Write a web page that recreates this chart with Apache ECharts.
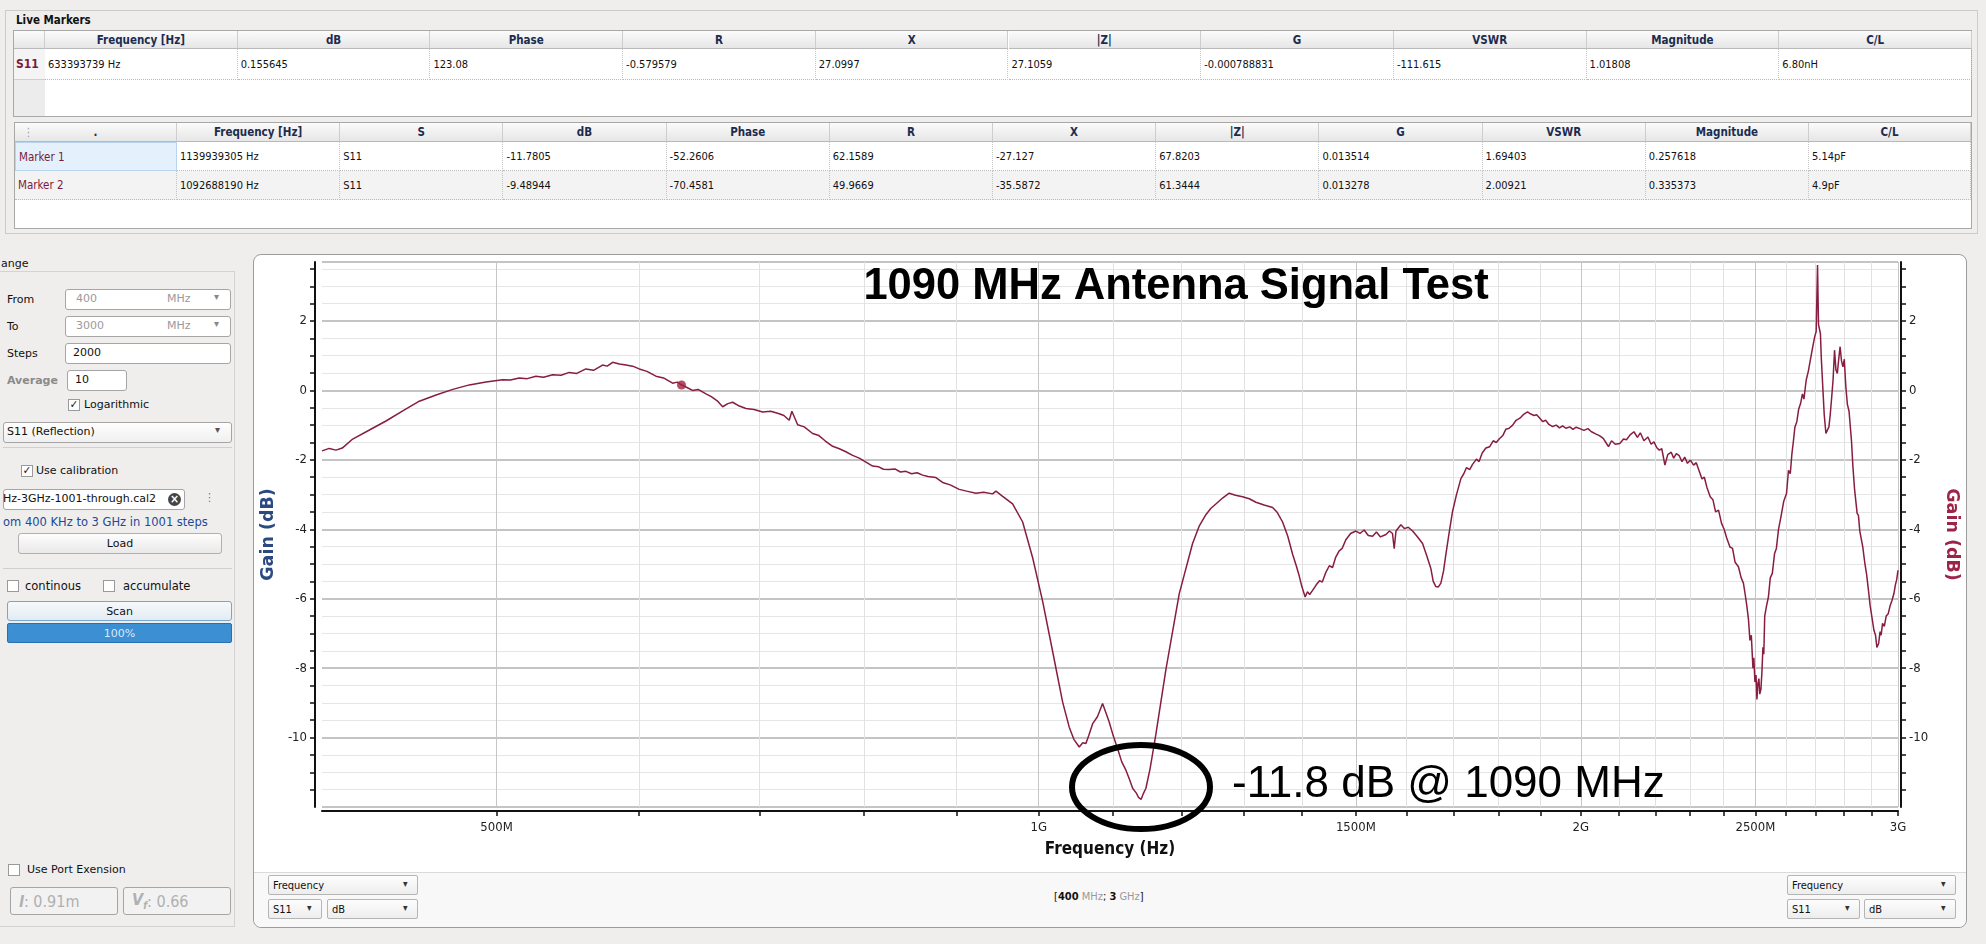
<!DOCTYPE html>
<html>
<head>
<meta charset="utf-8">
<script src="https://cdn.jsdelivr.net/npm/echarts@6.0.0/dist/echarts.min.js"></script>
<style>
html,body{margin:0;padding:0;}
body{width:1986px;height:944px;overflow:hidden;background:#efeeec;position:relative;font-family:"DejaVu Sans Condensed","DejaVu Sans",sans-serif;color:#111;}
.a{position:absolute;box-sizing:border-box;white-space:nowrap;}
.hdr{background:linear-gradient(#fbfbfb,#e6e6e6);border-right:1px solid #cdcdcd;border-bottom:1px solid #b9b9b9;font-weight:bold;color:#1c2c4f;font-size:11.5px;display:flex;align-items:center;justify-content:center;}
.cell{font-size:11px;padding-left:3px;display:flex;align-items:center;border-right:1px dotted #c4c4c4;border-bottom:1px dotted #b9b9b9;overflow:hidden;}
.ui{font-family:"DejaVu Sans",sans-serif;font-size:11px;color:#111;}
.box{background:#fff;border:1px solid #a5a5a5;border-radius:3px;}
.btn{background:linear-gradient(#fdfdfd,#e9e9e9);border:1px solid #b0b0b0;border-radius:3px;display:flex;align-items:center;justify-content:center;}
.chk{width:12px;height:12px;background:#fff;border:1px solid #9a9a9a;font-size:11px;line-height:10px;text-align:center;font-weight:bold;}
.cmb{background:linear-gradient(#fdfdfd,#ededed);border:1px solid #b5b5b5;border-radius:2px;font-size:11px;padding-left:4px;display:flex;align-items:center;}
#chart{position:absolute;left:0;top:0;width:1986px;height:944px;z-index:5;pointer-events:none;}
</style>
</head>
<body>
<div id="ui"></div>
<div id="chart"></div>
<script>
// ---------------- data: S11 sweep, [frequency MHz, gain dB] ----------------
const sweep400to880 = [[400,-1.74],[403.7,-1.67],[407.2,-1.72],[410.5,-1.66],[416,-1.40],[425,-1.14],[434.1,-0.88],[443.5,-0.59],[453,-0.31],[462.8,-0.13],
[472.8,0.03],[482.9,0.16],[493.3,0.24],[503.9,0.31],[509,0.30],[514.7,0.36],[520,0.34],[525.8,0.41],[531,0.38],[537.2,0.45],[543,0.44],[548.7,0.52],
[554,0.49],[560.5,0.62],[566,0.58],[572.6,0.73],[576,0.70],[580,0.81],[585,0.76],[590,0.73],[595,0.70],[600.1,0.62],[606,0.55],[613,0.41],[619,0.36],
[626.2,0.21],[630,0.24],[633.4,0.16],[637,0.10],[642.4,0.00],[647,0.03],[653.5,-0.10],[658,-0.18],[663,-0.30],[667.6,-0.47],[672,-0.38],[676.2,-0.34],
[682,-0.45],[687.8,-0.52],[695,-0.55],[702.6,-0.62],[710,-0.60],[717.7,-0.67],[722,-0.72],[726.9,-0.86],[729.4,-0.60],[734.8,-0.99],[741,-1.05],
[749,-1.24],[755,-1.30],[761,-1.45],[768.4,-1.61],[775,-1.68],[781,-1.76],[788.3,-1.87],[795,-1.95],[801,-2.05],[808.7,-2.18],[815,-2.20],[820,-2.27],
[826,-2.28],[832,-2.26],[838,-2.35],[843.8,-2.33],[850,-2.40],[856,-2.37],[862.1,-2.44],[868,-2.48],[876.8,-2.51]];
const sweep880to1320 = [[884.4,-2.65],[893,-2.72],[903.4,-2.85],[912,-2.90],[922.9,-2.96],[932,-2.93],[942.8,-2.98],[946.8,-2.90],[955,-3.05],[967.2,-3.27],
[979.7,-3.79],[992.3,-4.82],[1005,-6.07],[1018,-7.52],[1031,-8.97],[1039.8,-9.70],[1046,-10.05],[1053.2,-10.27],[1058,-10.15],[1062.2,-10.17],[1066,-9.95],
[1071.4,-9.60],[1078,-9.40],[1085.1,-9.02],[1090,-9.30],[1094.3,-9.55],[1100,-9.95],[1106.2,-10.32],[1112,-10.70],[1118,-10.94],[1123,-11.20],[1127.6,-11.46],
[1133,-11.60],[1136,-11.72],[1140,-11.78],[1143,-11.62],[1146.9,-11.46],[1153,-10.90],[1161.6,-9.91],[1176.6,-8.04],[1196.8,-5.86],[1217.4,-4.41],[1228,-3.90],
[1238.3,-3.58],[1246,-3.40],[1254.2,-3.27],[1265,-3.10],[1275.8,-2.96],[1286,-3.02],[1297.8,-3.06],[1309,-3.12],[1320.1,-3.22]];
const sweep1320to2000 = [[1334,-3.30],[1348.6,-3.37],[1356,-3.50],[1365.9,-3.79],[1375,-4.20],[1383.5,-4.72],[1390,-5.05],[1395.2,-5.34],[1400,-5.65],[1405.9,-5.95],
[1410,-5.80],[1414,-5.88],[1419.3,-5.76],[1426,-5.60],[1432,-5.48],[1437,-5.52],[1443.6,-5.24],[1450,-5.05],[1456,-5.10],[1462,-4.80],[1468.4,-4.62],[1474,-4.55],
[1481,-4.30],[1490,-4.12],[1500.1,-4.05],[1508,-4.12],[1516,-4.02],[1524,-4.18],[1532.5,-4.20],[1540,-4.08],[1548,-4.22],[1558.8,-4.15],[1566,-4.05],[1572,-4.12],
[1575.4,-4.56],[1579,-4.05],[1588.9,-3.87],[1596,-3.98],[1604,-3.94],[1612.9,-4.05],[1622,-4.20],[1633.6,-4.41],[1642,-4.75],[1651,-5.13],[1656,-5.50],
[1661.6,-5.65],[1667,-5.66],[1672.3,-5.55],[1678,-5.20],[1683,-4.72],[1690,-4.10],[1697.5,-3.48],[1706,-3.00],[1715.6,-2.54],[1722,-2.40],[1728,-2.22],
[1735,-2.28],[1741.4,-2.13],[1750,-1.98],[1756,-2.05],[1763,-1.80],[1771.3,-1.66],[1780,-1.62],[1788,-1.45],[1795,-1.50],[1801.7,-1.40],[1810,-1.30],
[1817,-1.12],[1824.8,-1.09],[1833,-1.00],[1841,-0.86],[1850,-0.80],[1858,-0.70],[1868.2,-0.62],[1876,-0.68],[1884,-0.72],[1890,-0.70],[1896.2,-0.78],
[1905,-0.90],[1912,-0.86],[1920,-0.98],[1928.9,-1.04],[1938,-1.00],[1946,-1.08],[1954,-1.02],[1962,-1.09],[1972,-1.05],[1980,-1.12],[1988,-1.06],[1997.5,-1.10]];
const sweep2000to3000 = [[2008,-1.15],[2018,-1.10],[2027.4,-1.19],[2038,-1.25],[2048,-1.30],[2058,-1.38],[2065,-1.50],[2071.9,-1.62],[2080,-1.45],[2090,-1.55],
[2102.2,-1.53],[2112,-1.40],[2120,-1.42],[2130,-1.28],[2140.4,-1.19],[2150,-1.35],[2158,-1.22],[2168,-1.45],[2179,-1.34],[2188,-1.55],[2196,-1.48],[2204,-1.65],
[2211,-1.72],[2218,-1.68],[2226.9,-2.15],[2235,-1.85],[2245,-1.78],[2252,-1.95],[2259.6,-1.82],[2268,-1.88],[2276,-2.05],[2284,-1.92],[2292,-2.10],[2300.7,-2.01],
[2310,-2.15],[2318,-2.08],[2325.8,-2.30],[2335,-2.55],[2342,-2.50],[2350,-2.80],[2359.7,-3.06],[2368,-3.15],[2376,-3.50],[2385,-3.45],[2394.1,-3.83],[2402,-4.00],
[2410,-4.25],[2420,-4.51],[2428,-4.55],[2436,-4.95],[2446.4,-5.08],[2455,-5.40],[2462,-5.55],[2468,-5.90],[2473.1,-6.23],[2478,-6.60],[2482.6,-7.20],[2487,-7.05],
[2492.2,-8.00],[2495,-7.70],[2498.5,-8.40],[2502,-8.20],[2504.9,-8.90],[2508,-8.45],[2511.3,-8.30],[2514,-8.75],[2517.8,-8.60],[2521,-8.10],[2524.2,-7.40],
[2527,-7.60],[2530,-6.50],[2536,-6.20],[2542,-5.95],[2548,-5.40],[2554.7,-5.27],[2562,-4.70],[2568,-4.55],[2575,-4.00],[2583,-3.64],[2592,-3.20],[2601.5,-2.97],
[2608,-2.30],[2614,-2.40],[2619.5,-1.82],[2624,-1.50],[2629.6,-1.05],[2636,-0.90],[2642,-0.55],[2648.8,-0.37],[2655,-0.10],[2660,-0.25],[2667.8,0.30],[2675,0.55],
[2683.9,0.97],[2690,1.25],[2697,1.55],[2702,1.70],[2706.7,3.61],[2710,1.90],[2716.7,1.64],[2720,0.90],[2725.5,0.01],[2730,-0.70],[2735.9,-1.24],[2740,-1.20],
[2746.4,-1.05],[2751,-0.70],[2756.3,-0.18],[2761,0.30],[2766.2,1.16],[2771,0.60],[2776.1,0.49],[2781,0.90],[2786,1.26],[2791,0.85],[2796,0.68],[2801,0.90],
[2806.4,0.11],[2812,-0.40],[2818,-0.60],[2826.6,-1.43],[2832,-2.20],[2838,-2.85],[2847.3,-3.54],[2852,-3.60],[2857,-4.05],[2862,-4.10],[2867.7,-4.50],[2875,-4.95],
[2882,-5.30],[2888.7,-5.75],[2895,-6.20],[2902,-6.55],[2909.1,-6.91],[2915,-7.05],[2920,-7.40],[2926.6,-7.29],[2932,-6.95],[2936,-7.05],[2941.3,-6.71],[2948,-6.80],
[2955,-6.50],[2962.8,-6.43],[2970,-6.20],[2977,-6.05],[2984.4,-5.85],[2990,-5.60],[2995,-5.45],[3000,-5.18]];
const liveMarker = [[633.4, 0.156]];

const xMajorTicks = [500, 1000, 1500, 2000, 2500, 3000];
const xMajorLabels = ['500M', '1G', '1500M', '2G', '2500M', '3G'];
const xMinorTicks = [600,700,800,900,1100,1200,1300,1400,1600,1700,1800,1900,2100,2200,2300,2400,2600,2700,2800,2900];
const yLabelValues = [2, 0, -2, -4, -6, -8, -10];

const liveHeaders = ['Frequency [Hz]','dB','Phase','R','X','|Z|','G','VSWR','Magnitude','C/L'];
const liveRow = ['633393739 Hz','0.155645','123.08','-0.579579','27.0997','27.1059','-0.000788831','-111.615','1.01808','6.80nH'];
const markerHeaders = ['.','Frequency [Hz]','S','dB','Phase','R','X','|Z|','G','VSWR','Magnitude','C/L'];
const markerRows = [
  ['Marker 1','1139939305 Hz','S11','-11.7805','-52.2606','62.1589','-27.127','67.8203','0.013514','1.69403','0.257618','5.14pF'],
  ['Marker 2','1092688190 Hz','S11','-9.48944','-70.4581','49.9669','-35.5872','61.3444','0.013278','2.00921','0.335373','4.9pF']
];

// ---------------- UI (HTML) ----------------
const ui = document.getElementById('ui');
function el(cls, x, y, w, h, html, style) {
  const d = document.createElement('div');
  d.className = 'a ' + (cls || '');
  d.style.left = x + 'px'; d.style.top = y + 'px';
  if (w != null) d.style.width = w + 'px';
  if (h != null) d.style.height = h + 'px';
  if (html != null) d.innerHTML = html;
  if (style) d.style.cssText += ';' + style;
  ui.appendChild(d);
  return d;
}
el('', 5, 10, 1973, 224, '', 'border:1px solid #cbcbcb;');
el('', 16, 13, null, 14, 'Live Markers', 'font-weight:bold;font-size:11.5px;');
el('', 13, 30, 1959, 87, '', 'background:#fff;border:1px solid #a8a8a8;');
el('', 14, 31, 31, 85, '', 'background:#ececec;');
el('hdr', 14, 31, 31, 18, '');
el('', 14, 49, 31, 31, 'S11', 'font-weight:bold;color:#7a1b3b;font-size:12px;display:flex;align-items:center;padding-left:2px;border-bottom:1px solid #cfcfcf;background:#f4f4f4;');
(function(){
  const x0 = 45, cw = 192.7;
  liveHeaders.forEach((h, i) => {
    el('hdr', x0 + i * cw, 31, cw, 18, h);
    el('cell', x0 + i * cw, 49, cw, 31, liveRow[i]);
  });
})();
el('', 14, 122, 1958, 107, '', 'background:#fff;border:1px solid #a8a8a8;');
(function(){
  const colX = [15, 177];
  const cw = 163.2;
  for (let i = 1; i < 12; i++) colX.push(177 + i * cw);
  colX[12] = 1971;
  markerHeaders.forEach((h, i) => {
    const x = colX[i], w = colX[i + 1] - colX[i];
    el('hdr', x, 123, w, 19, i === 0 ? '<span style="position:absolute;left:8px;color:#999;font-weight:normal">&#8942;</span>' + h : h);
  });
  markerRows.forEach((row, r) => {
    const y = 142 + r * 29;
    row.forEach((v, i) => {
      const x = colX[i], w = colX[i + 1] - colX[i];
      let st = r === 1 ? 'background:#f3f3f3;' : '';
      if (i === 0) st += 'color:#7a1b3b;font-size:11.5px;';
      if (i === 0 && r === 0) st += 'background:#e4f0fb;border:1px solid #b9d4ee;';
      el('cell', x, y, w, 29, v, st);
    });
  });
})();

el('ui', 1, 257, null, 14, 'ange');
el('', -2, 271, 237, 656, '', 'border:1px solid #d3d3d3;border-left:none;');
function combo(x, y, w, h, txt, unit, gray) {
  el('box', x, y, w, h, '');
  el('ui', x + 11, y + 3, null, 14, txt, gray ? 'color:#9a9a9a' : '');
  if (unit) el('ui', x + 102, y + 3, null, 14, unit, 'color:#9a9a9a');
  el('ui', x + w - 17, y + 2, null, 14, '&#9662;', 'color:#888;font-size:10px;');
}
el('ui', 7, 293, null, 14, 'From');
combo(65, 289, 166, 21, '400', 'MHz', true);
el('ui', 7, 320, null, 14, 'To');
combo(65, 316, 166, 21, '3000', 'MHz', true);
el('ui', 7, 347, null, 14, 'Steps');
el('box', 65, 343, 166, 21, '');
el('ui', 73, 346, null, 14, '2000');
el('ui', 7, 374, null, 14, 'Average', 'color:#8a8a8a;font-weight:bold;');
el('box', 67, 370, 60, 21, '');
el('ui', 75, 373, null, 14, '10');
el('chk', 68, 399, null, null, '&#10003;');
el('ui', 84, 398, null, 14, 'Logarithmic');
el('box', 3, 422, 229, 21, '', 'background:linear-gradient(#fefefe,#f0f0f0);');
el('ui', 7, 425, null, 14, 'S11 (Reflection)');
el('ui', 215, 424, null, 14, '&#9662;', 'font-size:10px;color:#555');
el('', 3, 447, 229, 1, '', 'background:#cfcfcf;');
el('chk', 21, 465, null, null, '&#10003;');
el('ui', 36, 464, null, 14, 'Use calibration');
el('box', 3, 489, 182, 21, '', 'overflow:hidden;');
el('ui', 3, 492, null, 14, 'Hz-3GHz-1001-through.cal2');
el('', 168, 493, 13, 13, '&#215;', 'border-radius:50%;background:#444;color:#fff;font-size:12px;line-height:12px;text-align:center;font-weight:bold;');
el('ui', 204, 491, null, 14, '&#8942;', 'color:#777');
el('ui', 3, 515, null, 14, 'om 400 KHz to 3 GHz in 1001 steps', 'color:#1d4a97;font-size:11.5px;');
el('btn ui', 18, 533, 204, 21, 'Load');
el('', 3, 568, 229, 1, '', 'background:#cfcfcf;');
el('chk', 7, 580, null, null, '');
el('ui', 25, 579, null, 14, 'continous', 'font-size:11.5px;');
el('chk', 103, 580, null, null, '');
el('ui', 123, 579, null, 14, 'accumulate', 'font-size:11.5px;');
el('btn ui', 7, 601, 225, 20, 'Scan', 'border-color:#7aa5cc;background:linear-gradient(#f6f9fc,#e3ebf3);');
el('ui', 7, 623, 225, 20, '100%', 'background:#3c8fd2;border:1px solid #2b6fae;border-radius:2px;color:#dbe9f7;display:flex;align-items:center;justify-content:center;');
el('chk', 8, 864, null, null, '');
el('ui', 27, 863, null, 14, 'Use Port Exension', 'font-size:11px;');
el('box', 10, 887, 108, 28, '<i style="font-weight:bold">l</i>: 0.91m', 'color:#b0b0b0;font-size:16px;padding-left:8px;display:flex;align-items:center;background:#f2f2f2;');
el('box', 123, 887, 108, 28, '<i style="font-weight:bold">V<sub style="font-size:10px">f</sub></i>: 0.66', 'color:#b0b0b0;font-size:16px;padding-left:8px;display:flex;align-items:center;background:#f2f2f2;');

el('', 253, 254, 1714, 674, '', 'background:#fff;border:1px solid #9c9c9c;border-radius:8px;');
el('', 254, 872, 1712, 55, '', 'background:#f8f8f8;border-top:1px solid #dadada;border-radius:0 0 8px 8px;');
function cmb(x, y, w, txt) {
  el('cmb', x, y, w, 20, txt);
  el('', x + w - 15, y + 3, null, 14, '&#9662;', 'font-size:10px;color:#333;');
}
cmb(268, 875, 150, 'Frequency');
cmb(268, 899, 54, 'S11');
cmb(327, 899, 91, 'dB');
cmb(1787, 875, 169, 'Frequency');
cmb(1787, 899, 73, 'S11');
cmb(1864, 899, 92, 'dB');
el('', 1054, 890, null, 14, '[<b>400</b> <span style="color:#999">MHz</span>; <b>3</b> <span style="color:#999">GHz</span>]', 'font-size:11px;');

// ---------------- chart ----------------
const chart = echarts.init(document.getElementById('chart'), null, {renderer: 'canvas'});
const axisFont = '"DejaVu Sans Condensed","DejaVu Sans",sans-serif';
function xLabel(v) {
  const i = xMajorTicks.indexOf(Math.round(v));
  return i >= 0 ? xMajorLabels[i] : '';
}
function yLabel(v) {
  const r = Math.round(v * 2) / 2;
  return yLabelValues.indexOf(r) >= 0 ? String(r) : '';
}
const allXTicks = xMajorTicks.concat(xMinorTicks).sort((a, b) => a - b);
const sweep = sweep400to880.concat(sweep880to1320, sweep1320to2000, sweep2000to3000);
const yCommon = {
  type: 'value', min: -12, max: 3.7, interval: 0.5,
  axisLine: {show: true, onZero: false, lineStyle: {color: '#111', width: 2}},
  axisTick: {show: true, length: 5, lineStyle: {color: '#111', width: 1.5}},
  axisLabel: {interval: 0, hideOverlap: false, formatter: yLabel, color: '#222', fontSize: 13, fontFamily: axisFont, margin: 8, showMaxLabel: false, showMinLabel: false}
};
chart.setOption({
  backgroundColor: 'transparent',
  animation: false,
  grid: {left: 322, top: 262, width: 1576, height: 545, containLabel: false, outerBoundsMode: 'none'},
  xAxis: [{
    type: 'log', logBase: 10, min: 400, max: 3000, position: 'bottom', offset: 4,
    axisLine: {show: true, onZero: false, lineStyle: {color: '#111', width: 2}},
    axisTick: {show: true, customValues: allXTicks, length: 5, lineStyle: {color: '#111', width: 1.5}},
    axisLabel: {customValues: xMajorTicks, formatter: xLabel, color: '#222', fontSize: 13, fontFamily: axisFont, margin: 10},
    splitLine: {show: true, lineStyle: {color: '#e1e1e1', width: 1}},
    name: 'Frequency (Hz)', nameLocation: 'middle', nameGap: 30,
    nameTextStyle: {color: '#111', fontSize: 17, fontWeight: 'bold', fontFamily: axisFont}
  }, {
    type: 'log', logBase: 10, min: 400, max: 3000, position: 'top',
    axisLine: {show: false}, axisTick: {show: false, customValues: xMajorTicks},
    axisLabel: {show: false, customValues: xMajorTicks},
    splitLine: {show: true, lineStyle: {color: '#c6c6c6', width: 1}}
  }],
  yAxis: [Object.assign({}, yCommon, {
    position: 'left', offset: 7,
    splitLine: {show: true, lineStyle: {color: '#e6e6e6', width: 1}},
    name: 'Gain (dB)', nameLocation: 'middle', nameRotate: 90, nameGap: 36,
    nameTextStyle: {color: '#2b4a82', fontSize: 17.5, fontWeight: 'bold', fontFamily: '"DejaVu Sans",sans-serif'}
  }), Object.assign({}, yCommon, {
    position: 'right', offset: 3,
    splitLine: {show: false},
    name: 'Gain (dB)', nameLocation: 'middle', nameRotate: -90, nameGap: 42,
    nameTextStyle: {color: '#9c2448', fontSize: 17.5, fontWeight: 'bold', fontFamily: '"DejaVu Sans",sans-serif'}
  }), {
    type: 'value', min: -12, max: 3.7, interval: 2, position: 'left',
    axisLine: {show: false}, axisTick: {show: false}, axisLabel: {show: false},
    splitLine: {show: true, lineStyle: {color: '#c4c4c4', width: 2}}
  }],
  series: [{
    type: 'line', xAxisIndex: 0, yAxisIndex: 0,
    data: sweep,
    showSymbol: false, symbol: 'none',
    lineStyle: {color: '#871d41', width: 1.5}, z: 5
  }, {
    type: 'scatter', xAxisIndex: 0, yAxisIndex: 0,
    data: liveMarker,
    symbolSize: 9, itemStyle: {color: '#a11f3f'}, z: 6
  }],
  graphic: [{
    type: 'text', x: 1176, y: 287, z: 10,
    style: {text: '1090 MHz Antenna Signal Test', fill: '#000', font: 'bold 43.5px "Liberation Sans", Arial, sans-serif', textAlign: 'center', textVerticalAlign: 'middle'}
  }, {
    type: 'text', x: 1232, y: 785, z: 10,
    style: {text: '-11.8 dB @ 1090 MHz', fill: '#000', font: '44px "Liberation Sans", Arial, sans-serif', textAlign: 'left', textVerticalAlign: 'middle'}
  }, {
    type: 'ellipse', z: 10,
    shape: {cx: 1141, cy: 787, rx: 69, ry: 42},
    style: {fill: 'none', stroke: '#000', lineWidth: 6}
  }]
});
</script>
</body>
</html>
